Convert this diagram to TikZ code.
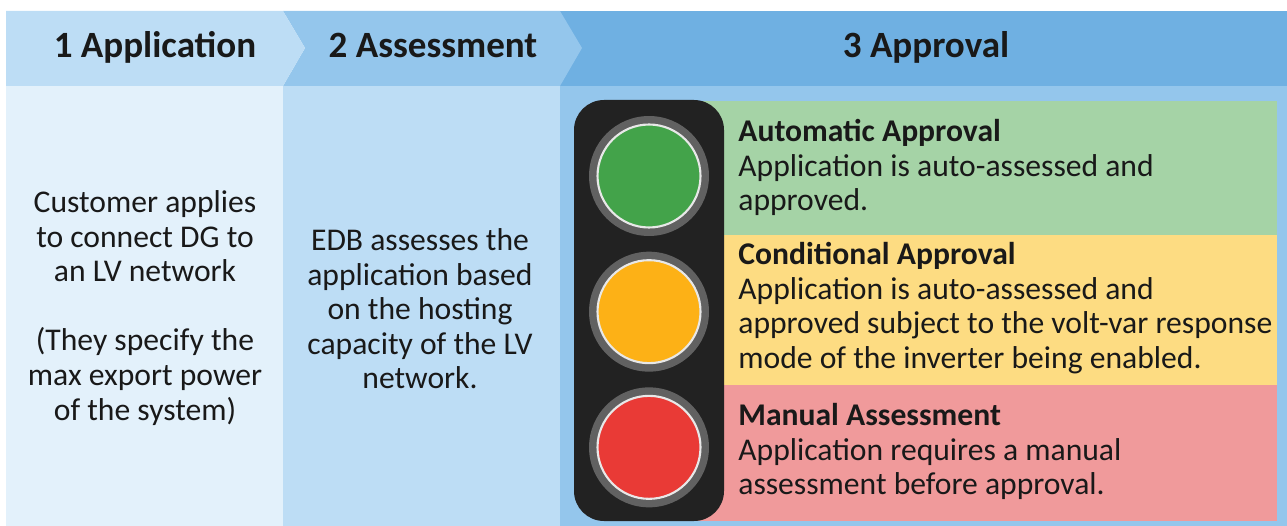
\documentclass[tikz,border=0pt]{standalone}
\usepackage{fontspec}
\setmainfont{Carlito}
\usetikzlibrary{positioning}
\definecolor{paleblue}{HTML}{E3F1FB}
\definecolor{lightblue}{HTML}{BDDDF5}
\definecolor{midblue}{HTML}{94C6EC}
\definecolor{deepblue}{HTML}{6FB0E2}
\definecolor{greenpanel}{HTML}{A5D3A6}
\definecolor{yellowpanel}{HTML}{FDDC82}
\definecolor{redpanel}{HTML}{F09A9B}
\definecolor{greenlamp}{HTML}{43A34A}
\definecolor{amberlamp}{HTML}{FDB116}
\definecolor{redlamp}{HTML}{E93A36}
\definecolor{housing}{HTML}{222222}
\definecolor{lampring}{HTML}{616161}
\definecolor{lampedge}{HTML}{E8E8E8}
\tikzset{
  head/.style={font=\fontsize{21.1}{25}\selectfont\bfseries,text=black!90,inner sep=0pt,anchor=base},
  body/.style={font=\fontsize{18}{19.65}\selectfont,align=center,text=black!90,inner sep=0pt},
  panel/.style={font=\fontsize{18}{19.65}\selectfont,align=left,text=black!90,inner sep=0pt,anchor=north west},
  lamp/.style={circle,draw=lampedge,line width=1.2pt,minimum size=2.06cm,inner sep=0pt},
  lampbase/.style={circle,fill=lampring,minimum size=2.4cm,inner sep=0pt}
}
\newcommand{\ttl}[1]{{\bfseries #1}}
\begin{document}
\begin{tikzpicture}[x=0.02cm,y=-0.02cm]
  \useasboundingbox (0,0) rectangle (1287,526);
  % bottom columns
  \fill[midblue] (560,86) rectangle (1287,526);
  \fill[lightblue] (283,86) rectangle (560,526);
  \fill[paleblue] (6,86) rectangle (283,526);
  % header arrows
  \fill[deepblue] (560,11) rectangle (1287,86);
  \fill[midblue] (283,11) -- (560,11) -- (582,48) -- (560,86) -- (283,86) -- (305,48) -- cycle;
  \fill[lightblue] (6,11) -- (283,11) -- (305,48) -- (283,86) -- (6,86) -- cycle;
  % colour bands
  \fill[greenpanel] (650,101) rectangle (1277,235);
  \fill[yellowpanel] (650,235) rectangle (1277,385);
  \fill[redpanel] (650,385) rectangle (1277,521);
  % traffic light
  \fill[housing,rounded corners=0.6cm] (574,100) rectangle (724,521);
  \node[lampbase] (greenbase) at (649,176) {};
  \node[lamp,fill=greenlamp] (green) at (greenbase) {};
  \node[lampbase,below=0.3cm of greenbase] (amberbase) {};
  \node[lamp,fill=amberlamp] (amber) at (amberbase) {};
  \node[lampbase,below=0.3cm of amberbase] (redbase) {};
  \node[lamp,fill=redlamp] (red) at (redbase) {};
  % header text
  \node[head] (h1) at (155,58) {1 Application};
  \node[head] (h2) at (433,58) {2 Assessment};
  \node[head] (h3) at (926,58) {3 Approval};
  % column text
  \node[body] (apply) at (145,308) {Customer applies\\to connect DG to\\an LV network\\[19.65pt](They specify the\\max export power\\of the system)};
  \node[body] (assess) at (420,309) {EDB assesses the\\application based\\on the hosting\\capacity of the LV\\network.};
  % approval text
  \node[panel] (auto) at (738,119) {\ttl{Automatic Approval}\\Application is auto-assessed and\\approved.};
  \node[panel] (cond) at (738,242) {\ttl{Conditional Approval}\\Application is auto-assessed and\\approved subject to the volt-var response\\mode of the inverter being enabled.};
  \node[panel] (manual) at (738,403) {\ttl{Manual Assessment}\\Application requires a manual\\assessment before approval.};
\end{tikzpicture}
\end{document}
